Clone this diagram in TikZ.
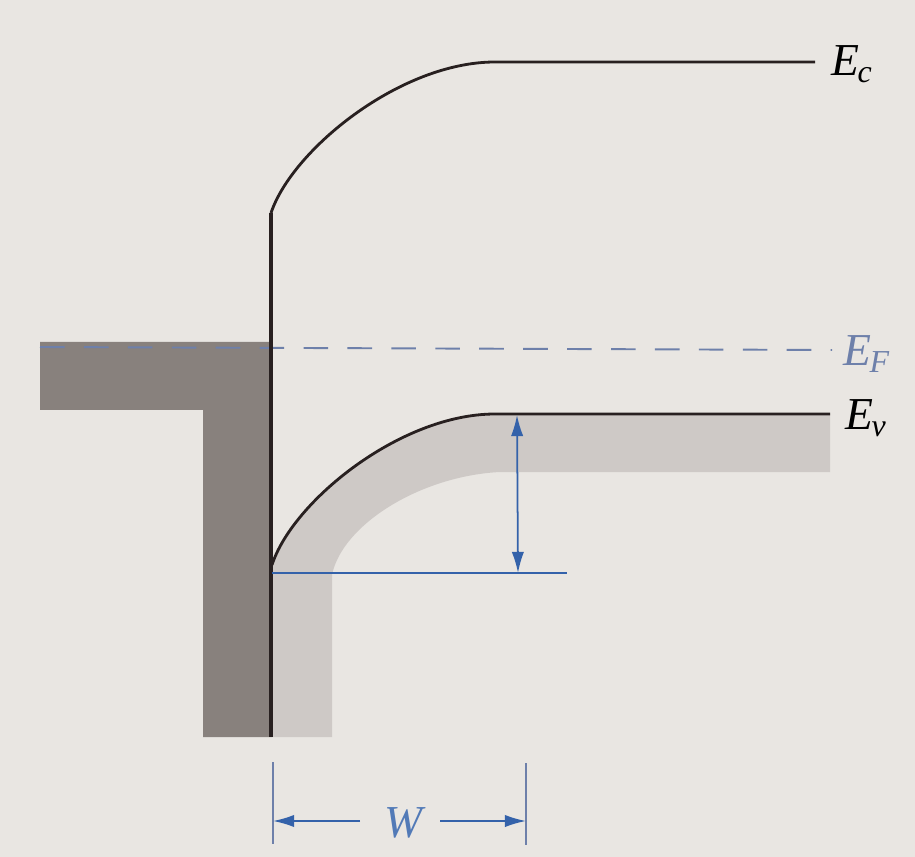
\documentclass[tikz,border=0pt]{standalone}
\usepackage{fontspec}
\setmainfont{Liberation Serif}
\usetikzlibrary{arrows.meta}
\definecolor{paper}{RGB}{233,230,226}
\definecolor{metal}{RGB}{136,129,125}
\definecolor{band}{RGB}{206,201,198}
\definecolor{ink}{RGB}{40,32,32}
\definecolor{dimblue}{RGB}{52,98,170}
\definecolor{fermi}{RGB}{110,128,170}
\newcommand{\lev}[2]{#1\textsubscript{\kern-1pt#2}}
\tikzset{
  level/.style={draw=ink, line width=1.6pt},
  dimline/.style={draw=dimblue, line width=1pt},
  dimarrow/.style={dimline, -{Latex[length=12pt,width=7pt]}},
  lbl/.style={font=\fontsize{26}{30}\selectfont\itshape, inner sep=0pt},
}
\begin{document}
\begin{tikzpicture}[x=0.02cm, y=-0.02cm]
\useasboundingbox (0,0) rectangle (915,857);
\fill[paper] (0,0) rectangle (915,857);
% metal
\fill[metal] (40,342) -- (272,342) -- (272,737) -- (203,737) -- (203,410) -- (40,410) -- cycle;
% valence band shading
\fill[band] (272,565) .. controls (295,500) and (400,414) .. (495,414) -- (830,414) -- (830,472) -- (500,472)
  .. controls (420,476) and (342,525) .. (332,575) -- (332,737) -- (272,737) -- cycle;
% Fermi level
\draw[fermi, line width=1.1pt, dash pattern=on 14pt off 11pt] (40,347) -- (832,350);
% coordinates
\coordinate (ecS) at (271,213);
\coordinate (ecK) at (495,62);
\coordinate (ecE) at (815,62);
\coordinate (evS) at (272,565);
\coordinate (evK) at (495,414);
\coordinate (evE) at (830,414);
\coordinate (bot) at (271,737);
% Ec
\draw[level] (ecS) .. controls (292,150) and (400,62) .. (ecK) -- (ecE);
% Ev
\draw[level] (evS) .. controls (292,502) and (400,414) .. (evK) -- (evE);
% interface
\draw[draw=ink, line width=2.2pt] (ecS) -- (bot);
% labels
\node[lbl, anchor=base west] (Ec) at (831,76) {\lev{E}{c}};
\node[lbl, anchor=base west, text=fermi] (EF) at (843,366) {\lev{E}{F}};
\node[lbl, anchor=base west] (Ev) at (845,430) {\lev{E}{v}};
% barrier height
\coordinate (bl) at (272,573);
\coordinate (br) at (567,573);
\draw[dimline] (bl) -- (br);
\coordinate (vt) at (517,415);
\coordinate (vb) at (518,573);
\draw[dimline, {Latex[length=12pt,width=7pt]}-{Latex[length=12pt,width=7pt]}] (vt) -- (vb);
% W dimension
\coordinate (t1a) at (273,762);
\coordinate (t1b) at (273,844);
\coordinate (t2a) at (526,763);
\coordinate (t2b) at (526,845);
\draw[dimline, draw=fermi] (t1a) -- (t1b);
\draw[dimline, draw=fermi] (t2a) -- (t2b);
\node[lbl, text=dimblue!85!white, anchor=base] (W) at (404,837) {W};
\coordinate (la) at (360,821);
\coordinate (ra) at (440,821);
\draw[dimarrow] (la) -- (t1a |- la);
\draw[dimarrow] (ra) -- (t2a |- ra);
\end{tikzpicture}
\end{document}
